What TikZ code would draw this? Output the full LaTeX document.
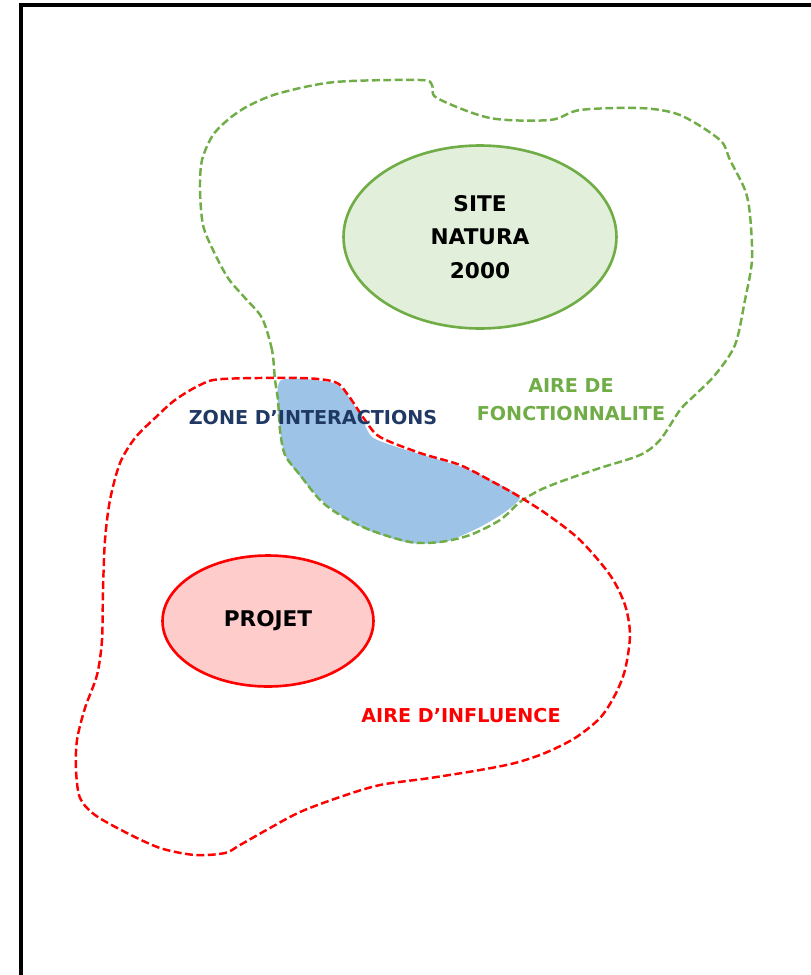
\documentclass[tikz,border=0pt]{standalone}
\usepackage{fontspec}
\setmainfont{DejaVu Sans}
\usetikzlibrary{shapes.geometric}
\definecolor{natgreen}{RGB}{112,173,71}
\definecolor{natfill}{RGB}{226,239,218}
\definecolor{projfill}{RGB}{255,204,204}
\definecolor{zoneblue}{RGB}{157,195,230}
\definecolor{zonenavy}{RGB}{31,56,100}
\tikzset{
    aire/.style={line width=1.4pt, dash pattern=on 4.5pt off 2pt},
    cercle/.style={ellipse, line width=1.5pt, inner sep=0pt, align=center,
        font=\bfseries\fontsize{12.3}{19}\selectfont},
    etiquette/.style={align=center, font=\bfseries\fontsize{10.9}{16}\selectfont}
}
\begin{document}
\begin{tikzpicture}[x=0.02cm, y=-0.02cm]
        \useasboundingbox (0,0) rectangle (811,975);
        % the frame (top and left sides only)
        \draw[line width=2pt] (21,975) -- (21,5) -- (811,5);

        % the zone of interactions (blue, below the outlines)
        \fill[zoneblue] plot[smooth cycle, tension=0.4] coordinates {
            (280,381) (330,382) (345,392) (360,415) (372,437) (400,448)
            (440,460) (470,470) (495,482) (520,497) (505,512) (480,527)
            (445,542) (410,543) (370,531) (340,515) (318,497) (298,474)
            (285,455) (280,430)};

        % the outline of the aire de fonctionnalite
        \draw[aire, natgreen] plot[smooth cycle, tension=0.5] coordinates {
            (275,380) (272,350) (262,318) (245,298) (228,278) (213,250)
            (203,225) (200,190) (202,160) (213,135) (230,118) (250,105)
            (280,93) (335,82) (420,80) (432,85) (437,98) (490,118)
            (550,120) (580,110) (640,108) (680,115) (720,140) (730,160)
            (745,190) (750,215) (752,260) (745,300) (735,345) (715,375)
            (695,395) (680,410) (660,440) (640,455) (600,468) (565,480)
            (540,490) (520,502) (500,520) (470,535) (440,542) (410,542)
            (370,530) (340,515) (320,500) (300,475) (285,455) (280,430)
            (278,400)};

        % the outline of the aire d'influence
        \draw[aire, red] plot[smooth cycle, tension=0.5] coordinates {
            (222,379) (300,378) (335,382) (348,395) (365,420) (380,437)
            (420,453) (460,465) (495,483) (520,497) (548,515) (580,540)
            (610,575) (625,605) (630,635) (625,670) (615,695) (600,718)
            (575,738) (545,753) (515,763) (480,770) (430,778) (380,785)
            (340,797) (300,812) (270,828) (240,845) (225,853) (195,855)
            (160,848) (125,832) (95,815) (80,798) (76,770) (77,740)
            (85,708) (97,675) (102,640) (103,590) (105,540) (110,500)
            (120,463) (135,438) (155,418) (175,400) (200,385)};

        % the site Natura 2000
        \node[cercle, draw=natgreen, fill=natfill, minimum width=5.46cm,
            minimum height=3.66cm] (site) at (480,237) {SITE\\NATURA\\2000};

        % the project
        \node[cercle, draw=red, fill=projfill, minimum width=4.22cm,
            minimum height=2.62cm] (projet) at (268,621) {PROJET};

        % the labels of the areas
        \node[etiquette, text=natgreen] (fonct) at (571,400)
            {AIRE DE\\FONCTIONNALITE};
        \node[etiquette, text=zonenavy] (zone) at (313,418)
            {ZONE D’INTERACTIONS};
        \node[etiquette, text=red] (influ) at (461,716)
            {AIRE D’INFLUENCE};
    \end{tikzpicture}
\end{document}
